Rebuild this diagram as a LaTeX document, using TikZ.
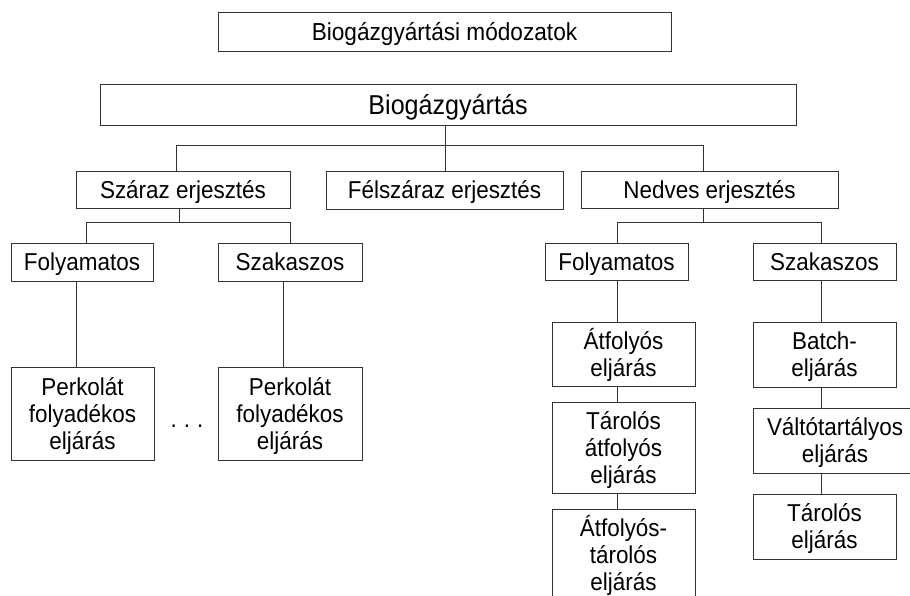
\documentclass[tikz,border=0pt]{standalone}
\usepackage{fontspec}
\setmainfont[FakeStretch=0.92]{Liberation Sans}
\begin{document}
\begin{tikzpicture}[x=1pt,y=-1pt,
  every node/.style={inner sep=0pt, outer sep=0pt, align=center,
    font=\fontsize{24.4}{27}\selectfont},
  box/.style={draw=black!80, line width=0.9pt, fill=white},
  lone/.style={text height=17.5pt, text depth=0pt},
  ltwo/.style={text height=44.5pt, text depth=0pt},
  lthree/.style={text height=71.5pt, text depth=0pt},
  link/.style={draw=black!80, line width=0.9pt}]
\useasboundingbox (0,0) rectangle (910,596);

% header
\node[box, lone, minimum width=453pt, minimum height=39pt, font=\fontsize{24.6}{27}\selectfont] (title) at (444.5,31.5) {Biogázgyártási módozatok};

% root
\node[box, minimum width=696pt, minimum height=41pt, text height=19.5pt, text depth=0pt, font=\fontsize{27.3}{30}\selectfont] (bio) at (448,104.5) {Biogázgyártás};

% level 1
\node[box, lone, minimum width=214pt, minimum height=37pt] (szaraz) at (183,189.5) {Száraz erjesztés};
\node[box, lone, minimum width=237pt, minimum height=38pt] (felszaraz) at (444.5,190) {Félszáraz erjesztés};
\node[box, lone, minimum width=257pt, minimum height=37pt] (nedves) at (709.5,189.5) {Nedves erjesztés};

% level 2, dry branch
\node[box, lone, minimum width=142pt, minimum height=38pt] (folyL) at (82,262) {Folyamatos};
\node[box, lone, minimum width=144pt, minimum height=38pt] (szakL) at (290,262) {Szakaszos};
\node[box, lthree, minimum width=143pt, minimum height=93pt] (perkA) at (82.5,413.5) {Perkolát\\folyadékos\\eljárás};
\node[box, lthree, minimum width=144pt, minimum height=93pt] (perkB) at (290,413.5) {Perkolát\\folyadékos\\eljárás};
\node[anchor=base] (dots) at (187,427) {.\hspace{7pt}.\hspace{7pt}.};

% level 2, wet branch
\node[box, lone, minimum width=143pt, minimum height=37pt] (folyR) at (616.5,261.5) {Folyamatos};
\node[box, lone, minimum width=143pt, minimum height=37pt] (szakR) at (824.5,261.5) {Szakaszos};

\node[box, ltwo, minimum width=143pt, minimum height=64pt] (atf) at (623.5,354) {Átfolyós\\eljárás};
\node[box, lthree, minimum width=143pt, minimum height=91pt] (tarat) at (623.5,447.5) {Tárolós\\átfolyós\\eljárás};
\node[box, lthree, minimum width=143pt, minimum height=91pt] (atfta) at (623.5,554.5) {Átfolyós-\\tárolós\\eljárás};

\node[box, ltwo, minimum width=143pt, minimum height=65pt] (batch) at (824.5,354.5) {Batch-\\eljárás};
\node[box, ltwo, minimum width=164pt, minimum height=65pt] (valto) at (835,440.5) {Váltótartályos\\eljárás};
\node[box, ltwo, minimum width=143pt, minimum height=65pt] (tarol) at (824.5,526.5) {Tárolós\\eljárás};

% connector junctions
\coordinate (hL) at (176,145);
\coordinate (hC) at (445,145);
\coordinate (hR) at (703,145);
\coordinate (sL) at (86,222);
\coordinate (sC) at (179,222);
\coordinate (sR) at (290,222);
\coordinate (vA) at (76,0);
\coordinate (vB) at (283,0);
\coordinate (wL) at (617,222);
\coordinate (wC) at (703,222);
\coordinate (wR) at (821,222);

% root to level 1
\draw[link] (bio.south -| hC) -- (felszaraz.north -| hC);
\draw[link] (hL |- szaraz.north) -- (hL) -- (hR) -- (hR |- nedves.north);

% dry branch
\draw[link] (szaraz.south -| sC) -- (sC);
\draw[link] (sL |- folyL.north) -- (sL) -- (sR) -- (sR |- szakL.north);
\draw[link] (folyL.south -| vA) -- (perkA.north -| vA);
\draw[link] (szakL.south -| vB) -- (perkB.north -| vB);

% wet branch
\draw[link] (nedves.south -| wC) -- (wC);
\draw[link] (wL |- folyR.north) -- (wL) -- (wR) -- (wR |- szakR.north);
\draw[link] (folyR.south -| wL) -- (atf.north -| wL);
\draw[link] (atf.south -| wL) -- (tarat.north -| wL);
\draw[link] (tarat.south -| wL) -- (atfta.north -| wL);
\draw[link] (szakR.south -| wR) -- (batch.north -| wR);
\draw[link] (batch.south -| wR) -- (valto.north -| wR);
\draw[link] (valto.south -| wR) -- (tarol.north -| wR);
\end{tikzpicture}
\end{document}
